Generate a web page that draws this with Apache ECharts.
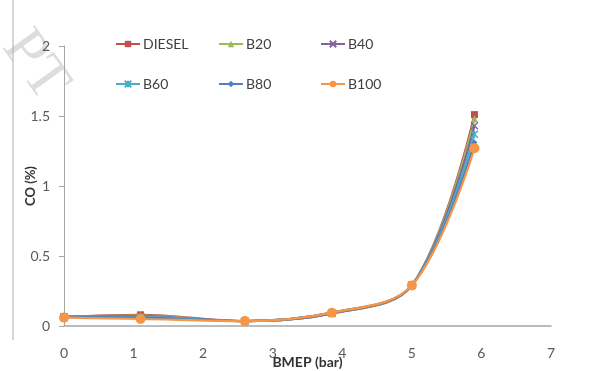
<!DOCTYPE html>
<html>
<head>
<meta charset="utf-8">
<script src="https://cdn.jsdelivr.net/npm/echarts@6/dist/echarts.min.js"></script>
<style>html,body{margin:0;padding:0;background:#fff;overflow:hidden;}#c{width:613px;height:371px;}</style>
</head>
<body>
<div id="c"></div>
<script>
const bmep = [0, 1.1, 2.6, 3.85, 5, 5.9];
const diesel = [0.065, 0.08, 0.035, 0.09, 0.29, 1.51];
const b20 = [0.065, 0.075, 0.035, 0.09, 0.29, 1.48];
const b40 = [0.065, 0.07, 0.035, 0.09, 0.29, 1.43];
const b60 = [0.065, 0.065, 0.035, 0.095, 0.29, 1.37];
const b80 = [0.065, 0.06, 0.035, 0.095, 0.29, 1.31];
const b100 = [0.06, 0.05, 0.035, 0.095, 0.29, 1.27];
const names = ['DIESEL', 'B20', 'B40', 'B60', 'B80', 'B100'];
const colors = ['#C0504D', '#9BBB59', '#8064A2', '#4BACC6', '#4F81BD', '#F79646'];
const symbols = ['rect', 'triangle',
  'path://M0,0 L10,10 M10,0 L0,10',
  'path://M0,0 L10,10 M10,0 L0,10 M5,0 L5,10',
  'diamond', 'circle'];
const sizes = [7, 7, 7, 7, 6, 10];
const allData = [diesel, b20, b40, b60, b80, b100];
const FONT = 'Lato';

const chart = echarts.init(document.getElementById('c'));
const series = allData.map((vals, i) => ({
  name: names[i],
  type: 'line',
  smooth: 0.35,
  data: bmep.map((x, j) => [x, vals[j]]),
  symbol: symbols[i],
  symbolSize: sizes[i],
  showAllSymbol: true,
  lineStyle: {color: colors[i], width: 2.2},
  itemStyle: {color: colors[i], borderColor: colors[i], borderWidth: (i === 2 || i === 3) ? 1.5 : 0},
  z: 2 + i
}));

const legendCols = [115, 218, 320];
const legendRows = [37, 77];
const legends = names.map((n, i) => ({
  data: [n],
  left: legendCols[i % 3],
  top: legendRows[Math.floor(i / 3)],
  padding: 0,
  itemWidth: 24, itemHeight: 8, itemGap: 3,
  textStyle: {fontFamily: FONT, fontSize: 14, color: '#404040', padding: [0, 0, 0, -2]}
}));

chart.setOption({
  animation: false,
  backgroundColor: '#fff',
  legend: legends,
  grid: {left: 64, right: 62, top: 46, bottom: 45, containLabel: false, outerBoundsMode: 'none'},
  xAxis: {
    type: 'value', min: 0, max: 7, interval: 1,
    name: 'BMEP (bar)', nameLocation: 'middle', nameGap: 29, nameMoveOverlap: false,
    nameTextStyle: {fontFamily: FONT, fontWeight: 'bold', fontSize: 14, color: '#333'},
    axisLine: {lineStyle: {color: '#a6a6a6', width: 1.5}},
    axisTick: {show: false},
    axisLabel: {margin: 20, fontFamily: FONT, fontSize: 14, color: '#595959'},
    splitLine: {show: false}
  },
  yAxis: {
    type: 'value', min: 0, max: 2, interval: 0.5,
    name: 'CO (%)', nameLocation: 'middle', nameGap: 27, nameRotate: 90, nameMoveOverlap: false,
    nameTextStyle: {fontFamily: FONT, fontWeight: 'bold', fontSize: 13, color: '#333'},
    axisLine: {show: true, lineStyle: {color: '#a6a6a6', width: 1}},
    axisTick: {show: true, length: 5, lineStyle: {color: '#a6a6a6'}},
    axisLabel: {margin: 14, fontFamily: FONT, fontSize: 14, color: '#595959'},
    splitLine: {show: false}
  },
  graphic: [
    {type: 'line', shape: {x1: 13, y1: 0, x2: 13, y2: 340}, style: {stroke: '#c8c8c8', lineWidth: 1.5}, z: 0},
    {type: 'text', left: -10, top: 20, rotation: -0.95,
     style: {text: 'PT', font: '60px "Liberation Serif"', fill: 'rgba(180,180,180,0.45)'}, z: 0}
  ],
  series: series
});
</script>
</body>
</html>
